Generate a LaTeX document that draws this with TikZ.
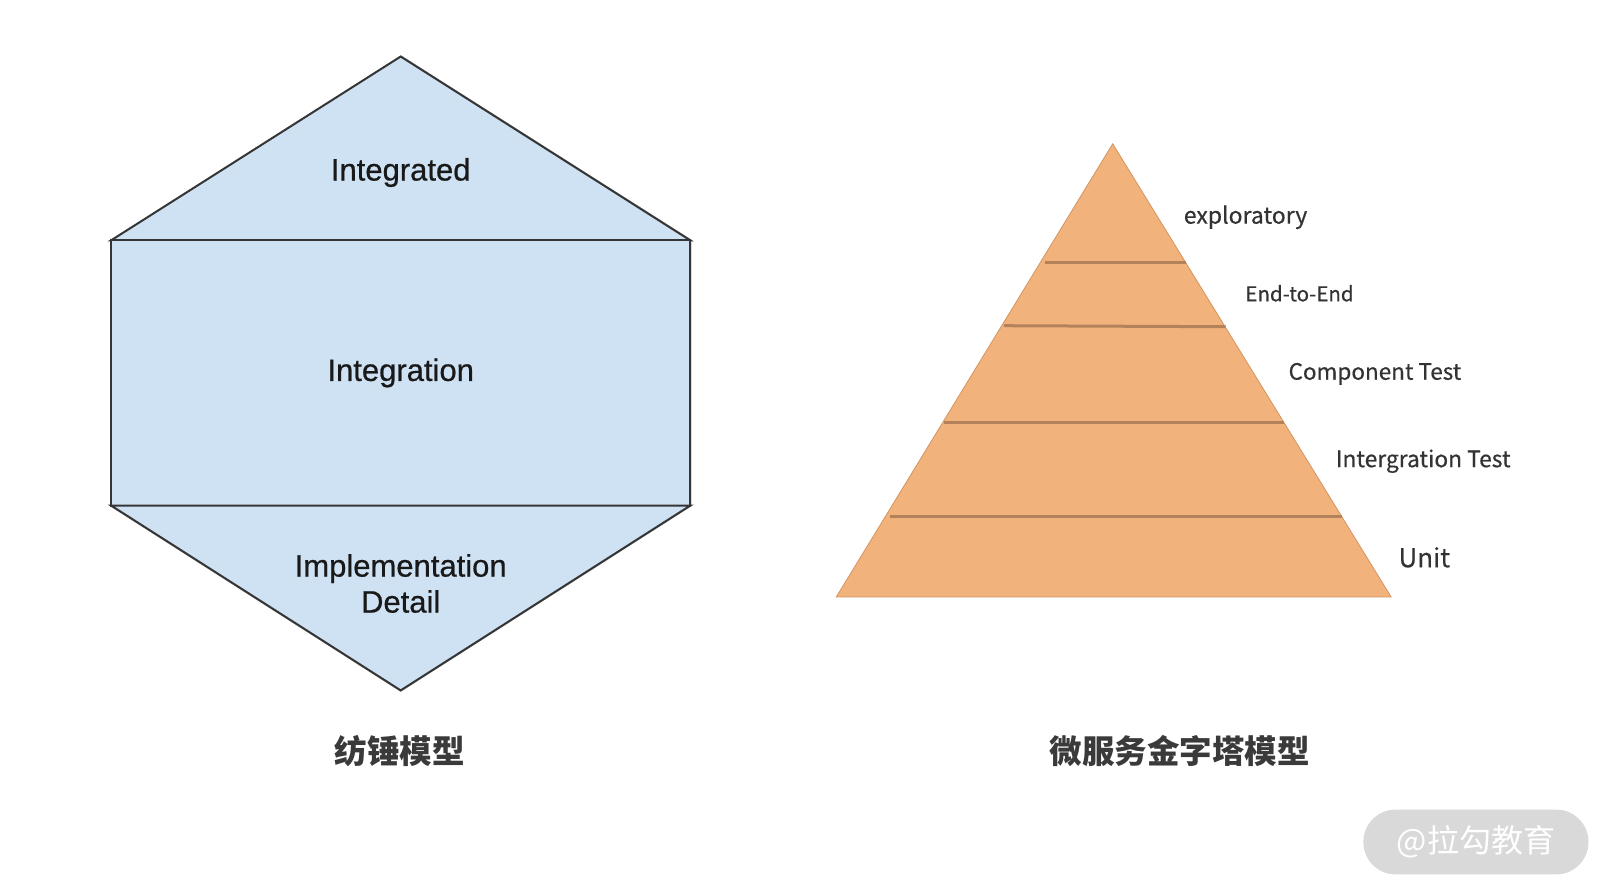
\documentclass[tikz,border=0pt]{standalone}
\usepackage{fontspec}
\setmainfont{Liberation Sans}
\newfontfamily\hexfont{Liberation Sans}[FakeBold=0.6]
\newfontfamily\cjk{Noto Sans CJK SC}
\newfontfamily\cjklab{Noto Sans CJK SC}[FakeBold=0.4]
\definecolor{hexfill}{HTML}{CFE2F3}
\definecolor{hexline}{HTML}{353535}
\definecolor{pyrfill}{HTML}{F2B27C}
\definecolor{pyredge}{HTML}{D39460}
\definecolor{pyrline}{HTML}{B3825A}
\definecolor{labtext}{HTML}{333333}
\definecolor{captext}{HTML}{3A3A3A}
\definecolor{wmfill}{HTML}{D9D9D9}
\tikzset{
  hexlabel/.style={font=\hexfont\fontsize{31}{36}\selectfont, text=black!90, align=center, inner sep=0pt},
  pyrlabel/.style={text=labtext, anchor=west, inner sep=0pt},
  caption/.style={font=\cjk\bfseries\fontsize{32.5}{36}\selectfont, text=captext, inner sep=0pt},
  layerline/.style={draw=pyrline, line width=3pt},
}
\begin{document}
\begin{tikzpicture}[x=1pt,y=-1pt]
\useasboundingbox (0,0) rectangle (1611,895);
\fill[white] (0,0) rectangle (1611,895);
% hexagon coordinates
\coordinate (htop) at (400.7,56.5);
\coordinate (hl1) at (111,240.4);
\coordinate (hr1) at (690.4,240.4);
\coordinate (hl2) at (111,505.5);
\coordinate (hr2) at (690.4,505.5);
\coordinate (hbot) at (400.7,690.4);
% shadow
\draw[black!45, line width=2.5pt, opacity=0.5, shift={(2.5,2.5)}] (htop) -- (hr1) -- (hr2) -- (hbot) -- (hl2);
% shapes
\filldraw[fill=hexfill, draw=hexline, line width=2pt, line join=miter] (hl1) -- (htop) -- (hr1) -- cycle;
\filldraw[fill=hexfill, draw=hexline, line width=2pt] (hl1) rectangle (hr2);
\filldraw[fill=hexfill, draw=hexline, line width=2pt, line join=miter] (hl2) -- (hr2) -- (hbot) -- cycle;
\node[hexlabel] (integrated) at (400.7,172.5) {Integrated};
\node[hexlabel] (integration) at (400.7,372.9) {Integration};
\node[hexlabel] (impl) at (400.7,583.5) {Implementation\\Detail};
% pyramid
\coordinate (papex) at (1112.7,143.8);
\coordinate (pbl) at (836.3,596.9);
\coordinate (pbr) at (1391.1,596.9);
\filldraw[fill=pyrfill, draw=pyredge, line width=0.8pt] (papex) -- (pbr) -- (pbl) -- cycle;
\coordinate (l1a) at (1044.9,262.0); \coordinate (l1b) at (1185.5,262.0);
\coordinate (l2a) at (1003.8,325.7); \coordinate (l2b) at (1225.6,326.7);
\coordinate (l3a) at (944.2,422.3); \coordinate (l3b) at (1284.2,422.3);
\coordinate (l4a) at (889.7,516.8); \coordinate (l4b) at (1341.7,516.8);
\draw[layerline] (l1a) -- (l1b);
\draw[layerline] (l2a) -- (l2b);
\draw[layerline] (l3a) -- (l3b);
\draw[layerline] (l4a) -- (l4b);
\node[pyrlabel, font=\cjklab\fontsize{23}{26}\selectfont] (explor) at (1183.6,217.2) {exploratory};
\node[pyrlabel, font=\cjklab\fontsize{20.5}{24}\selectfont] (e2e) at (1245.2,293.3) {End-to-End};
\node[pyrlabel, font=\cjklab\fontsize{22.5}{26}\selectfont] (comp) at (1288.4,373.9) {Component Test};
\node[pyrlabel, font=\cjklab\fontsize{22.8}{26}\selectfont] (integ) at (1335.6,461.2) {Intergration Test};
\node[pyrlabel, font=\cjklab\fontsize{26}{30}\selectfont] (unit) at (1398.3,557.3) {Unit};
% captions
\node[caption] (cap1) at (399.6,751) {纺锤模型};
\node[caption] (cap2) at (1179.5,751) {微服务金字塔模型};
% watermark
\node[fill=wmfill, rounded corners=32pt, minimum width=225pt, minimum height=64.7pt, inner sep=0pt,
      font=\cjk\fontsize{32}{36}\selectfont, text=white] (wm) at (1475.9,842) {@拉勾教育};
\end{tikzpicture}
\end{document}
